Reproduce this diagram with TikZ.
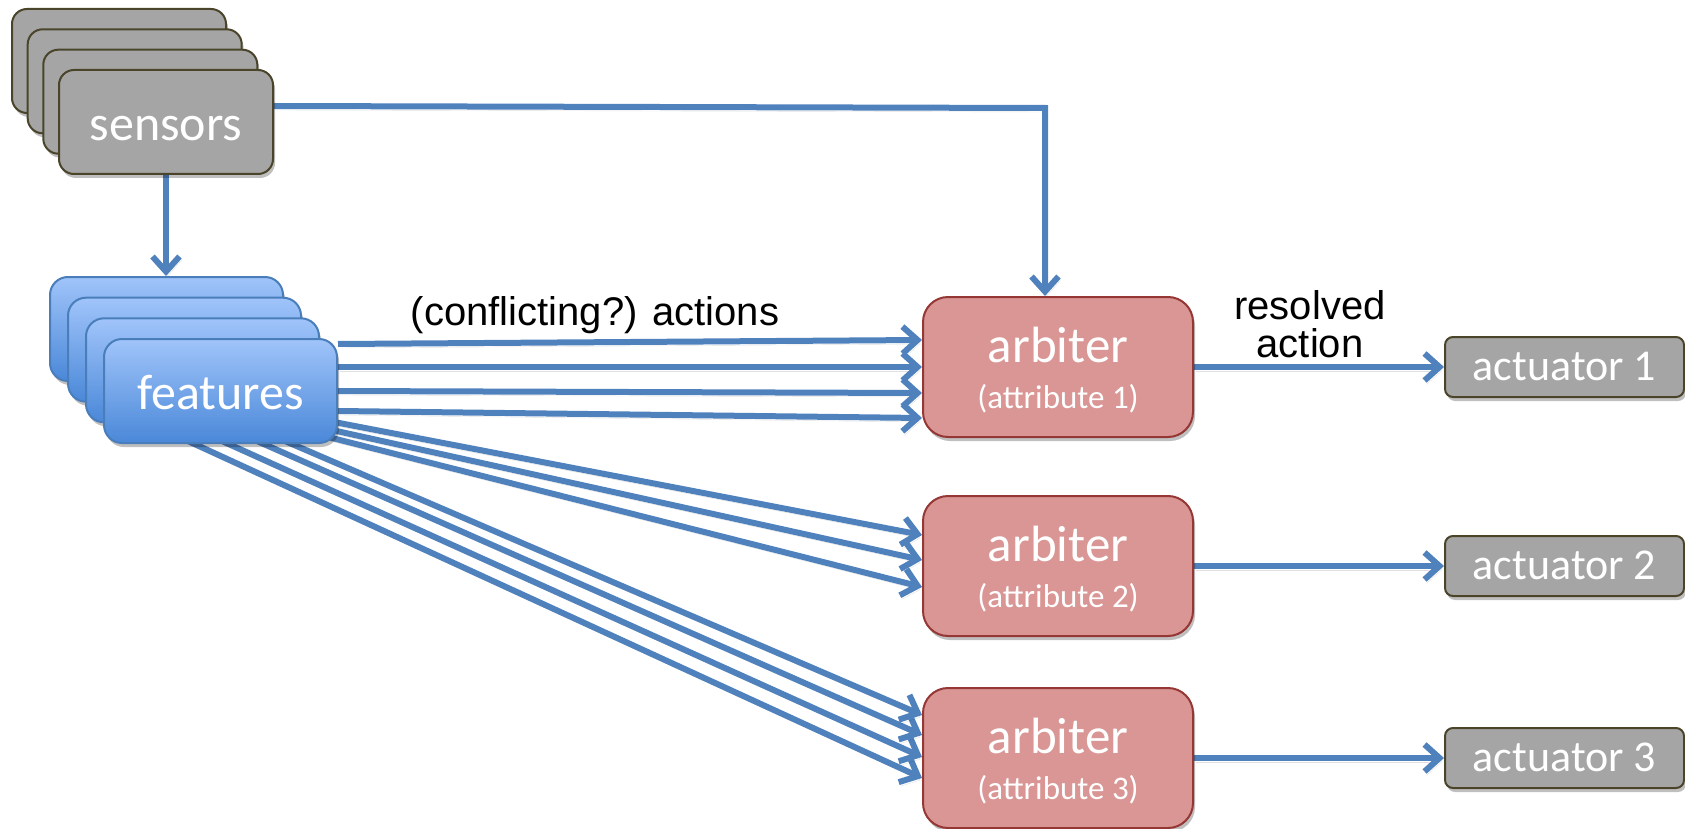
\documentclass[tikz,border=0pt]{standalone}
\usepackage{fontspec}
\setmainfont{Carlito}
\newfontfamily\arialf{Liberation Sans}
\usetikzlibrary{arrows.meta,shadows,calc}
\pgfdeclarelayer{paper}
\pgfdeclarelayer{bg}
\pgfsetlayers{paper,bg,main}
\definecolor{lineblue}{HTML}{4F81BD}
\definecolor{grayfill}{HTML}{A5A5A5}
\definecolor{grayedge}{HTML}{4A452A}
\definecolor{arbfill}{HTML}{D99694}
\definecolor{arbedge}{HTML}{953735}
\definecolor{feattop}{HTML}{A0C4FA}
\definecolor{featbot}{HTML}{4A88D8}
\definecolor{featedge}{HTML}{4A7EBB}
\tikzset{
  shad/.style={drop shadow={shadow xshift=2pt,shadow yshift=-4pt,opacity=0.25,fill=black}},
  sensorcard/.style={draw=grayedge,line width=2pt,fill=grayfill,rounded corners=15pt,
    minimum width=214pt,minimum height=104pt,inner sep=0pt,shad,text=white,
    font=\fontsize{50pt}{60pt}\selectfont,text height=38pt,text depth=0pt},
  featcard/.style={draw=featedge,line width=2pt,top color=feattop,bottom color=featbot,
    rounded corners=18pt,minimum width=233pt,minimum height=104pt,inner sep=0pt,shad,text=white,
    font=\fontsize{50pt}{60pt}\selectfont,text height=37pt,text depth=0pt},
  arbbox/.style={draw=arbedge,line width=2pt,fill=arbfill,rounded corners=25pt,
    minimum width=270pt,minimum height=140pt,inner sep=0pt,shad},
  arbtext/.style={text=white,inner sep=0pt,font=\fontsize{51pt}{60pt}\selectfont},
  attrtext/.style={text=white,inner sep=0pt,font=\fontsize{33pt}{40pt}\selectfont},
  actbox/.style={draw=grayedge,line width=2pt,fill=grayfill,rounded corners=8pt,
    minimum width=239pt,minimum height=60pt,inner sep=0pt,shad,text=white,
    font=\fontsize{44pt}{50pt}\selectfont,text height=26pt,text depth=0pt},
  lbl/.style={text=black,inner sep=0pt,font=\arialf\fontsize{40pt}{38pt}\selectfont},
  conn/.style={draw=lineblue,line width=6pt,
    -{Straight Barb[length=15pt,width=27pt]},
    preaction={draw=black,opacity=0.12,transform canvas={shift={(2pt,-4pt)}}}},
}
\begin{document}
\begin{tikzpicture}[x=1pt,y=-1pt]
\begin{pgfonlayer}{paper}
\useasboundingbox[fill=white] (0,0) rectangle (1685,828);
\end{pgfonlayer}

% sensors stack
\node[sensorcard] (sens1) at (119,61) {};
\node[sensorcard] (sens2) at (134.7,81.3) {};
\node[sensorcard] (sens3) at (150.3,101.7) {};
\node[sensorcard] (sensors) at (166,122) {sensors};

% features stack
\node[featcard] (feat1) at (166.5,329) {};
\node[featcard] (feat2) at (184.5,349.7) {};
\node[featcard] (feat3) at (202.5,370.3) {};
\node[featcard] (feat) at (220.5,391) {features};

% arbiters
\node[arbbox] (arb1) at (1058,367) {};
\node[arbbox] (arb2) at (1058,566) {};
\node[arbbox] (arb3) at (1058,758) {};
\foreach \i in {1,2,3}{
  \node[arbtext,anchor=base] (arb\i t) at ([yshift=5pt]arb\i.center) {arbiter};
  \node[attrtext,anchor=base] (arb\i a) at ([yshift=-41pt]arb\i.center) {(attribute \i)};
}

% actuators
\node[actbox] (act1) at (1564.5,367) {actuator 1};
\node[actbox] (act2) at (1564.5,566) {actuator 2};
\node[actbox] (act3) at (1564.5,758) {actuator 3};

% labels
\node[lbl,anchor=base] (lblconf) at (595,325) {(conflicting?) actions};
\node[lbl,anchor=base,align=center] (lblres) at (1310,357) {resolved\\action};

\coordinate (bend) at (1045,108);

\begin{pgfonlayer}{bg}
\draw[conn] ([yshift=16pt]sensors.east) -- (bend) -- (bend |- arb1.north);
\draw[conn] (sensors.south) -- (sensors.south |- feat1.north);

\draw[conn] ([yshift=47pt]feat.east) -- ([yshift=27pt]arb1.west);
\draw[conn] ([yshift=24pt]feat.east) -- (arb1.west);
\draw[conn] (feat.east) -- ([yshift=-26pt]arb1.west);
\draw[conn] ([yshift=-20pt]feat.east) -- ([yshift=-51pt]arb1.west);

\draw[conn] ([xshift=-4pt,yshift=-31pt]feat.east) -- ([yshift=31pt]arb2.west);
\draw[conn] ([xshift=-6pt,yshift=-39pt]feat.east) -- ([yshift=6pt]arb2.west);
\draw[conn] ([xshift=-10pt,yshift=-46pt]feat.east) -- ([yshift=-21pt]arb2.west);

\draw[conn] ([xshift=-32.5pt,yshift=3pt]feat.south) -- ([yshift=-20pt]arb3.west);
\draw[conn] ([xshift=1.5pt,yshift=3pt]feat.south) -- ([yshift=1pt]arb3.west);
\draw[conn] ([xshift=36.5pt,yshift=3pt]feat.south) -- ([yshift=23pt]arb3.west);
\draw[conn] ([xshift=64.5pt,yshift=3pt]feat.south) -- ([yshift=43pt]arb3.west);

\draw[conn] (arb1.east) -- (act1.west);
\draw[conn] (arb2.east) -- (act2.west);
\draw[conn] (arb3.east) -- (act3.west);
\end{pgfonlayer}
\end{tikzpicture}
\end{document}
